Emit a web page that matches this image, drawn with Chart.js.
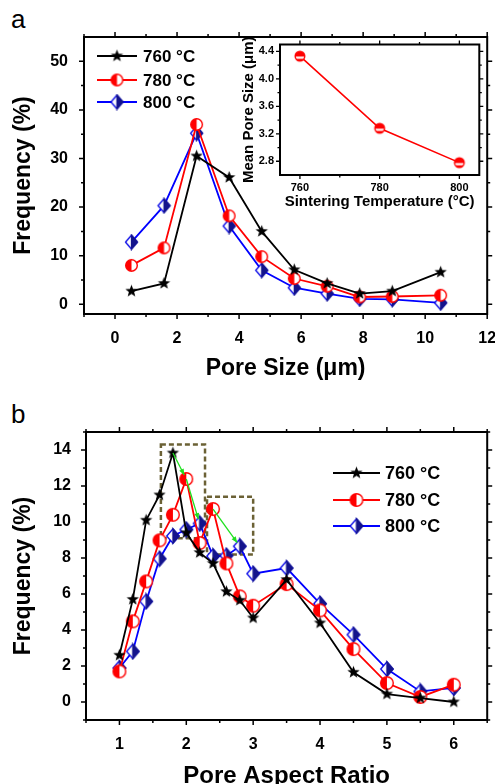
<!DOCTYPE html>
<html>
<head>
<meta charset="utf-8">
<script src="https://cdn.jsdelivr.net/npm/chart.js@4.4.1/dist/chart.umd.min.js"></script>
<style>
  html, body { margin: 0; padding: 0; background: #fff; overflow: hidden; }
  body { width: 495px; height: 784px; position: relative; font-family: "Liberation Sans", Arial, sans-serif; }
  canvas { position: absolute; }
  #chartA { left: 0; top: 0; width: 495px; height: 392px; }
  #inset { left: 228px; top: 28px; width: 262px; height: 192px; }
  #chartB { left: 0; top: 392px; width: 495px; height: 400px; }
  .panel { position: absolute; font-size: 26px; line-height: 1; color: #000; }
</style>
</head>
<body>
<div class="panel" style="left:11px;top:6px">a</div>
<div class="panel" style="left:11px;top:401px">b</div>
<canvas id="chartA" width="495" height="392"></canvas>
<canvas id="inset" width="262" height="192"></canvas>
<canvas id="chartB" width="495" height="400"></canvas>
<script>
// panel a: pore size distribution
const poreSize = [0.53, 1.58, 2.63, 3.68, 4.73, 5.78, 6.84, 7.89, 8.94, 10.5];
const size760 = [2.7, 4.3, 30.5, 26.1, 15.0, 7.1, 4.3, 2.2, 2.7, 6.6];
const size780 = [8.0, 11.6, 37.0, 18.2, 9.8, 5.3, 3.7, 1.5, 1.6, 1.85];
const size800 = [12.8, 20.3, 35.2, 16.1, 7.0, 3.4, 2.2, 1.1, 1.0, 0.3];
const poreTicks = [0, 2, 4, 6, 8, 10, 12];
const poreMinor = [-1, 1, 3, 5, 7, 9, 11];
const freqTicksA = [0, 10, 20, 30, 40, 50];
const freqMinorA = [5, 15, 25, 35, 45];

// inset: mean pore size
const sinterTemp = [760, 780, 800];
const meanPore = [4.33, 3.28, 2.78];
const tempTicks = [760, 780, 800];
const tempMinor = [770, 790];
const meanTicks = [2.8, 3.2, 3.6, 4.0, 4.4];
const meanMinor = [3.0, 3.4, 3.8, 4.2];

// panel b: pore aspect ratio distribution
const aspect = [1.0, 1.2, 1.4, 1.6, 1.8, 2.0, 2.2, 2.4, 2.6, 2.8, 3.0, 3.5, 4.0, 4.5, 5.0, 5.5, 6.0];
const ratio760 = [2.6, 5.7, 10.1, 11.5, 13.83, 9.4, 8.3, 7.7, 6.13, 5.65, 4.67, 6.8, 4.39, 1.65, 0.44, 0.22, 0.0];
const ratio780 = [1.7, 4.48, 6.7, 8.98, 10.4, 12.39, 8.83, 10.72, 7.7, 5.87, 5.35, 6.55, 5.09, 2.94, 1.05, 0.28, 0.96];
const ratio800 = [1.89, 2.81, 5.59, 7.96, 9.22, 9.58, 9.92, 8.1, 8.13, 8.65, 7.13, 7.44, 5.46, 3.74, 1.83, 0.59, 0.78];
const aspectTicks = [1, 2, 3, 4, 5, 6];
const aspectMinor = [0.5, 1.5, 2.5, 3.5, 4.5, 5.5, 6.5];
const freqTicksB = [0, 2, 4, 6, 8, 10, 12, 14];
const freqMinorB = [-1, 1, 3, 5, 7, 9, 11, 13, 15];

// dashed boxes [xmin, xmax, ymin, ymax] and shift arrows [fromSeries, fromIdx, toSeries, toIdx]
const peakBoxes = [[1.62, 2.28, 9.1, 14.3], [2.31, 3.0, 8.2, 11.4]];
const shiftArrows = [[0, 4, 1, 5], [1, 5, 2, 6], [1, 7, 2, 9]];

const labels = ['760 °C', '780 °C', '800 °C'];

const FONT = '"Liberation Sans", Arial, sans-serif';
Chart.defaults.font.family = FONT;
Chart.defaults.color = '#000';

// ---- marker images ----
function mk(size) {
  const c = document.createElement('canvas');
  c.width = c.height = size;
  const g = c.getContext('2d');
  g.translate(size / 2, size / 2);
  return [c, g];
}

function starMarker(r) {
  const [c, g] = mk(Math.ceil(r * 2 + 2));
  g.beginPath();
  for (let i = 0; i < 10; i++) {
    const rr = i % 2 ? r * 0.42 : r;
    const a = -Math.PI / 2 + i * Math.PI / 5;
    g.lineTo(rr * Math.cos(a), rr * Math.sin(a));
  }
  g.closePath();
  g.fillStyle = '#000';
  g.fill();
  return c;
}

function halfCircle(r, color) {
  const [c, g] = mk(Math.ceil(r * 2 + 3));
  g.beginPath(); g.arc(0, 0, r, 0, Math.PI * 2);
  g.fillStyle = '#fff'; g.fill();
  g.beginPath(); g.arc(0, 0, r, Math.PI / 2, Math.PI * 1.5); g.closePath();
  g.fillStyle = color; g.fill();
  g.beginPath(); g.arc(0, 0, r, 0, Math.PI * 2);
  g.lineWidth = 1.4; g.strokeStyle = color; g.stroke();
  return c;
}

function halfDiamond(w, h) {
  const [c, g] = mk(Math.ceil(Math.max(w, h) + 3));
  g.beginPath();
  g.moveTo(0, -h / 2); g.lineTo(w / 2, 0); g.lineTo(0, h / 2); g.lineTo(-w / 2, 0); g.closePath();
  g.fillStyle = '#fff'; g.fill();
  g.lineWidth = 1.3; g.strokeStyle = '#0000e6'; g.stroke();
  g.beginPath();
  g.moveTo(0, -h / 2); g.lineTo(w / 2, 0); g.lineTo(0, h / 2); g.closePath();
  g.fillStyle = '#14148c'; g.fill();
  g.strokeStyle = '#14148c'; g.stroke();
  return c;
}

function stripeCircle(r, color) {
  const [c, g] = mk(Math.ceil(r * 2 + 3));
  g.beginPath(); g.arc(0, 0, r, 0, Math.PI * 2);
  g.fillStyle = color; g.fill();
  g.save();
  g.beginPath(); g.arc(0, 0, r - 1.4, 0, Math.PI * 2); g.clip();
  g.fillStyle = '#fff';
  g.fillRect(-r, 0.4, r * 2, 2.2);
  g.restore();
  return c;
}

// ---- plugins ----
const framePlugin = {
  id: 'frame',
  afterDatasetsDraw(chart, args, o) {
    const { ctx, chartArea: a, scales: { x, y } } = chart;
    ctx.save();
    ctx.strokeStyle = '#000';
    ctx.lineWidth = o.tickWidth;
    ctx.beginPath();
    const xt = (vals, len) => vals.forEach(v => {
      const p = x.getPixelForValue(v);
      ctx.moveTo(p, a.bottom); ctx.lineTo(p, a.bottom + len);
      ctx.moveTo(p, a.top); ctx.lineTo(p, a.top - len);
    });
    const yt = (vals, len) => vals.forEach(v => {
      const p = y.getPixelForValue(v);
      ctx.moveTo(a.left, p); ctx.lineTo(a.left - len, p);
      ctx.moveTo(a.right, p); ctx.lineTo(a.right + len, p);
    });
    xt(o.xMajor, o.major); xt(o.xMinor, o.minor);
    yt(o.yMajor, o.major); yt(o.yMinor, o.minor);
    ctx.stroke();
    ctx.lineWidth = o.frameWidth;
    ctx.strokeRect(a.left, a.top, a.right - a.left, a.bottom - a.top);
    // vertical title drawn by hand so it may run past the plot height
    if (o.vTitle) {
      ctx.translate(o.vTitle.x, (a.top + a.bottom) / 2);
      ctx.rotate(-Math.PI / 2);
      ctx.font = o.vTitle.font;
      ctx.fillStyle = '#000';
      ctx.textAlign = 'center';
      ctx.textBaseline = 'middle';
      ctx.fillText(o.vTitle.text, 0, 0);
    }
    ctx.restore();
  }
};

const lineLegend = {
  id: 'lineLegend',
  afterDatasetsDraw(chart, args, o) {
    if (!o.rows) return;
    const ctx = chart.ctx;
    chart.data.datasets.forEach((ds, i) => {
      const y = o.rows[i];
      ctx.save();
      ctx.strokeStyle = ds.borderColor;
      ctx.lineWidth = ds.borderWidth;
      ctx.beginPath(); ctx.moveTo(o.x0, y); ctx.lineTo(o.x1, y); ctx.stroke();
      const img = ds.pointStyle;
      ctx.drawImage(img, (o.x0 + o.x1) / 2 - img.width / 2, y - img.height / 2);
      ctx.fillStyle = '#000';
      ctx.font = o.font;
      ctx.textBaseline = 'middle';
      ctx.fillText(ds.label, o.textX, y + 1);
      ctx.restore();
    });
  }
};

const shiftPlugin = {
  id: 'shift',
  beforeDatasetsDraw(chart, args, o) {
    if (!o.boxes) return;
    const { ctx, scales: { x, y } } = chart;
    ctx.save();
    ctx.strokeStyle = '#6b6135';
    ctx.lineWidth = 2.5;
    ctx.setLineDash([5, 3]);
    o.boxes.forEach(b => {
      const x0 = x.getPixelForValue(b[0]), x1 = x.getPixelForValue(b[1]);
      const y0 = y.getPixelForValue(b[3]), y1 = y.getPixelForValue(b[2]);
      ctx.strokeRect(x0, y0, x1 - x0, y1 - y0);
    });
    ctx.restore();
  },
  afterDatasetsDraw(chart, args, o) {
    if (!o.arrows) return;
    const { ctx, scales: { x, y } } = chart;
    const series = [ratio760, ratio780, ratio800];
    ctx.save();
    ctx.strokeStyle = '#1fe01f';
    ctx.fillStyle = '#1fe01f';
    ctx.lineWidth = 1.3;
    o.arrows.forEach(([sa, ia, sb, ib]) => {
      let x0 = x.getPixelForValue(aspect[ia]), y0 = y.getPixelForValue(series[sa][ia]);
      let x1 = x.getPixelForValue(aspect[ib]), y1 = y.getPixelForValue(series[sb][ib]);
      const ang = Math.atan2(y1 - y0, x1 - x0);
      x1 -= 4.5 * Math.cos(ang); y1 -= 4.5 * Math.sin(ang);
      ctx.beginPath(); ctx.moveTo(x0, y0); ctx.lineTo(x1, y1); ctx.stroke();
      ctx.beginPath();
      ctx.moveTo(x1, y1);
      ctx.lineTo(x1 - 6 * Math.cos(ang) + 2.5 * Math.sin(ang), y1 - 6 * Math.sin(ang) - 2.5 * Math.cos(ang));
      ctx.lineTo(x1 - 6 * Math.cos(ang) - 2.5 * Math.sin(ang), y1 - 6 * Math.sin(ang) + 2.5 * Math.cos(ang));
      ctx.closePath(); ctx.fill();
    });
    ctx.restore();
  }
};

// ---- helpers ----
function pts(xs, ys) { return xs.map((v, i) => ({ x: v, y: ys[i] })); }

function series(label, xs, ys, color, marker) {
  return {
    label: label, data: pts(xs, ys),
    borderColor: color, borderWidth: 1.8,
    pointStyle: marker, pointRadius: 6,
    fill: false, tension: 0, showLine: true
  };
}

function axis(cfg) {
  const horiz = cfg.horiz;
  return {
    type: 'linear', min: cfg.min, max: cfg.max,
    afterBuildTicks: s => { s.ticks = cfg.ticks.map(v => ({ value: v })); },
    afterFit: s => {
      if (horiz) s.height = cfg.size; else s.width = cfg.size;
      s.paddingLeft = s.paddingRight = s.paddingTop = s.paddingBottom = 0;
    },
    grid: { display: false, drawTicks: false },
    border: { display: false },
    ticks: {
      padding: cfg.pad, autoSkip: false, maxRotation: 0, color: '#000',
      font: { size: cfg.tickSize, weight: 'bold' },
      callback: cfg.fmt || (v => v)
    },
    title: {
      display: !!cfg.title, text: cfg.title || '', color: '#000',
      font: { size: cfg.titleSize, weight: 'bold' },
      padding: cfg.titlePad
    }
  };
}

const baseOpts = {
  responsive: false, animation: false, events: [],
  plugins: { legend: { display: false }, tooltip: { enabled: false } }
};

// ---- panel a ----
const star = starMarker(6.5);
const circ = halfCircle(5.8, '#ff0000');
const diam = halfDiamond(12, 14);

new Chart(document.getElementById('chartA'), {
  type: 'line',
  data: {
    datasets: [
      series(labels[0], poreSize, size760, '#000000', star),
      series(labels[1], poreSize, size780, '#ff0000', circ),
      series(labels[2], poreSize, size800, '#0000ff', diam)
    ]
  },
  options: {
    ...baseOpts,
    layout: { padding: { left: 0, top: 37, right: 3, bottom: 0 } },
    scales: {
      x: axis({ horiz: true, min: -1, max: 12, ticks: poreTicks, size: 78, pad: 15, tickSize: 16,
        title: 'Pore Size (μm)', titleSize: 23, titlePad: { top: 0, bottom: 10 } }),
      y: axis({ min: -2, max: 55, ticks: freqTicksA, size: 84, pad: 16, tickSize: 16,
        title: 'Frequency (%)', titleSize: 23, titlePad: { top: 10, bottom: 0 } })
    },
    plugins: {
      ...baseOpts.plugins,
      frame: { xMajor: poreTicks, xMinor: poreMinor, yMajor: freqTicksA, yMinor: freqMinorA,
        major: 5, minor: 3, tickWidth: 1.5, frameWidth: 2 },
      lineLegend: { x0: 97, x1: 137, textX: 143, rows: [56, 80, 102], font: 'bold 17px ' + FONT }
    }
  },
  plugins: [framePlugin, lineLegend]
});

// ---- inset ----
const insetMarker = stripeCircle(5.5, '#ff0000');
new Chart(document.getElementById('inset'), {
  type: 'line',
  data: {
    datasets: [{
      label: 'Mean Pore Size', data: pts(sinterTemp, meanPore),
      borderColor: '#ff0000', borderWidth: 1.6,
      pointStyle: insetMarker, pointRadius: 6, tension: 0, fill: false
    }]
  },
  options: {
    ...baseOpts,
    layout: { padding: { left: 0, top: 16.5, right: 10.7, bottom: 0 } },
    scales: {
      x: axis({ horiz: true, min: 755, max: 805, ticks: tempTicks, size: 45, pad: 6, tickSize: 11,
        title: 'Sintering Temperature (°C)', titleSize: 15, titlePad: { top: 0, bottom: 9 } }),
      y: axis({ min: 2.6, max: 4.5, ticks: meanTicks, size: 52, pad: 6, tickSize: 11,
        fmt: v => Number(v).toFixed(1) })
    },
    plugins: {
      ...baseOpts.plugins,
      frame: { xMajor: tempTicks, xMinor: tempMinor, yMajor: meanTicks, yMinor: meanMinor,
        major: 4, minor: 2.5, tickWidth: 1.3, frameWidth: 2,
        vTitle: { text: 'Mean Pore Size (μm)', font: 'bold 15px ' + FONT, x: 21 } }
    }
  },
  plugins: [framePlugin]
});

// ---- panel b ----
const starB = starMarker(6.5);
const circB = halfCircle(6.3, '#ff0000');
const diamB = halfDiamond(12.5, 14.5);

new Chart(document.getElementById('chartB'), {
  type: 'line',
  data: {
    datasets: [
      series(labels[0], aspect, ratio760, '#000000', starB),
      series(labels[1], aspect, ratio780, '#ff0000', circB),
      series(labels[2], aspect, ratio800, '#0000ff', diamB)
    ]
  },
  options: {
    ...baseOpts,
    layout: { padding: { left: 0, top: 40, right: 2, bottom: 0 } },
    scales: {
      x: axis({ horiz: true, min: 0.5, max: 6.5, ticks: aspectTicks, size: 72, pad: 15, tickSize: 16,
        title: 'Pore Aspect Ratio', titleSize: 24, titlePad: { top: 0, bottom: 1 } }),
      y: axis({ min: -1, max: 15, ticks: freqTicksB, size: 86, pad: 15, tickSize: 16,
        title: 'Frequency (%)', titleSize: 23, titlePad: { top: 10, bottom: 0 } })
    },
    plugins: {
      ...baseOpts.plugins,
      frame: { xMajor: aspectTicks, xMinor: aspectMinor, yMajor: freqTicksB, yMinor: freqMinorB,
        major: 5, minor: 3, tickWidth: 1.5, frameWidth: 2 },
      lineLegend: { x0: 333, x1: 380, textX: 385, rows: [81, 108, 134], font: 'bold 18px ' + FONT },
      shift: { boxes: peakBoxes, arrows: shiftArrows }
    }
  },
  plugins: [framePlugin, lineLegend, shiftPlugin]
});
</script>
</body>
</html>
